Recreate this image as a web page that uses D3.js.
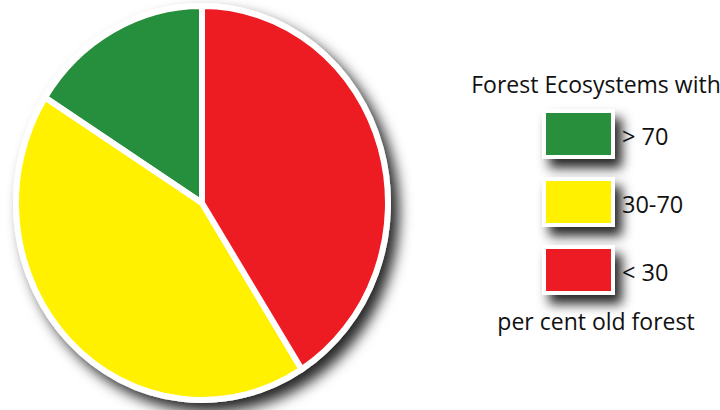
<!DOCTYPE html>
<html>
<head>
<meta charset="utf-8">
<script src="https://cdn.jsdelivr.net/npm/d3@7"></script>
<style>
  body { margin: 0; background: #fff; }
  text { font-family: "Open Sans", sans-serif; fill: #111; }
</style>
</head>
<body>
<svg id="chart" width="720" height="410"></svg>
<script>
// legend order (top to bottom)
var categories = ["> 70", "30-70", "< 30"];
var shares = [16, 43, 41];
var colours = ["#288f3d", "#fff100", "#ed1c24"];
var title = "Forest Ecosystems with";
var footer = "per cent old forest";

var svg = d3.select("#chart");
var defs = svg.append("defs");

var f = defs.append("filter").attr("id", "shadow")
    .attr("x", "-20%").attr("y", "-20%").attr("width", "150%").attr("height", "150%");
f.append("feDropShadow").attr("dx", 8).attr("dy", 9)
    .attr("stdDeviation", 7).attr("flood-color", "#000").attr("flood-opacity", 0.85);

var f2 = defs.append("filter").attr("id", "boxshadow")
    .attr("x", "-40%").attr("y", "-40%").attr("width", "200%").attr("height", "200%");
f2.append("feDropShadow").attr("dx", 7).attr("dy", 9)
    .attr("stdDeviation", 6).attr("flood-color", "#000").attr("flood-opacity", 0.85);

// pie, drawn as a circle and stretched a bit vertically
var cx = 202, cy = 203, rx = 186, ry = 197, r = 100;

// counter-clockwise from 12 o'clock: green, yellow, red
var pie = d3.pie().sort(null).startAngle(0).endAngle(-2 * Math.PI);
var arc = d3.arc().innerRadius(0).outerRadius(r);

var g = svg.append("g")
    .attr("filter", "url(#shadow)");
var inner = g.append("g")
    .attr("transform", "translate(" + cx + "," + cy + ") scale(" + (rx / r) + "," + (ry / r) + ")");

inner.append("circle").attr("r", r)
    .attr("fill", "#fff")
    .attr("stroke", "#fff")
    .attr("stroke-width", 5)
    .attr("vector-effect", "non-scaling-stroke");

inner.selectAll("path.slice")
    .data(pie(shares))
    .enter()
    .append("path")
    .attr("class", "slice")
    .attr("d", arc)
    .attr("fill", function (d, i) { return colours[i]; })
    .attr("stroke", "#fff")
    .attr("stroke-width", 6)
    .attr("stroke-linejoin", "round")
    .attr("vector-effect", "non-scaling-stroke");

// legend
var lx = 596;
svg.append("text")
    .attr("x", lx).attr("y", 93)
    .attr("text-anchor", "middle")
    .attr("font-size", 23)
    .text(title);

var rows = svg.selectAll("g.row")
    .data(categories)
    .enter()
    .append("g")
    .attr("class", "row")
    .attr("transform", function (d, i) { return "translate(542," + (109 + i * 68) + ")"; });

rows.append("rect")
    .attr("width", 73).attr("height", 50)
    .attr("fill", "#fff")
    .attr("filter", "url(#boxshadow)");
rows.append("rect")
    .attr("x", 4).attr("y", 4)
    .attr("width", 65).attr("height", 42)
    .attr("fill", function (d, i) { return colours[i]; });
rows.append("text")
    .attr("x", 80).attr("y", 36)
    .attr("font-size", 23.5)
    .text(function (d) { return d; });

svg.append("text")
    .attr("x", lx).attr("y", 330)
    .attr("text-anchor", "middle")
    .attr("font-size", 23)
    .text(footer);
</script>
</body>
</html>
